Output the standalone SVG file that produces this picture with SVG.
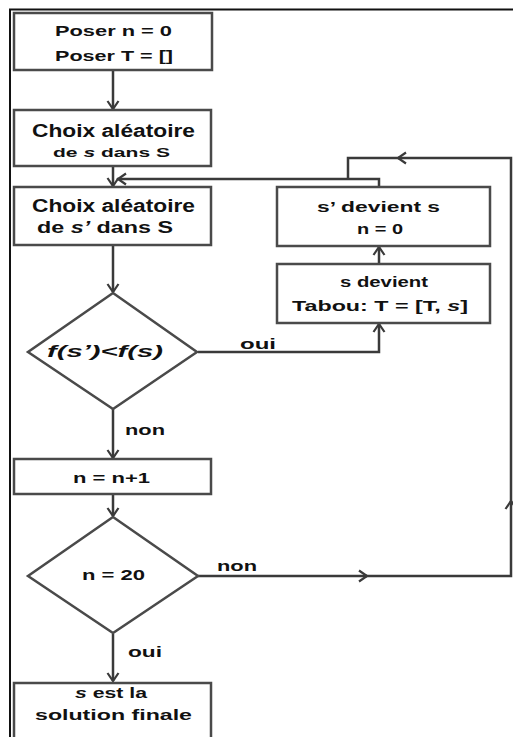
<svg xmlns="http://www.w3.org/2000/svg" width="513" height="737" viewBox="0 0 513 737">
<defs>
<style>
.box{fill:#fff;stroke:#4a4a4a;stroke-width:2.5}
.ln{fill:none;stroke:#3a3a3a;stroke-width:2.5}
.t{font-family:"Liberation Sans",Arial,sans-serif;font-weight:bold;fill:#111;text-anchor:middle}
.l{font-family:"Liberation Sans",Arial,sans-serif;font-weight:bold;fill:#111}
</style>
<marker id="ah" markerUnits="userSpaceOnUse" markerWidth="14" markerHeight="14" viewBox="-10 -7 12 14" refX="0" refY="0" orient="auto">
<path d="M-8,-5.5 L0,0 L-8,5.5" fill="none" stroke="#3a3a3a" stroke-width="2.2"/>
</marker>
</defs>
<rect width="513" height="737" fill="#fff"/>
<path d="M10,737 L10,9.5 L513,9.5" fill="none" stroke="#111" stroke-width="2"/>
<g id="connectors">
<path class="ln" d="M113,70 L113,109" marker-end="url(#ah)"/>
<path class="ln" d="M113,166 L113,186" marker-end="url(#ah)"/>
<path class="ln" d="M379,187 L379,179 L118,179" marker-end="url(#ah)"/>
<path class="ln" d="M113,245 L113,292" marker-end="url(#ah)"/>
<path class="ln" d="M198,352 L379,352 L379,324" marker-end="url(#ah)"/>
<path class="ln" d="M379,264 L379,247" marker-end="url(#ah)"/>
<path class="ln" d="M113,409 L113,458" marker-end="url(#ah)"/>
<path class="ln" d="M113,494 L113,516" marker-end="url(#ah)"/>
<path class="ln" d="M113,634 L113,681" marker-end="url(#ah)"/>
<path class="ln" d="M198,576 L367,576" marker-end="url(#ah)"/>
<path class="ln" d="M366,576 L511,576 L511,501" marker-end="url(#ah)"/>
<path class="ln" d="M511,502 L511,158 L398,158" marker-end="url(#ah)"/>
<path class="ln" d="M399,158 L348,158 L348,179"/>
<text class="l" x="240" y="349" font-size="15" textLength="36" lengthAdjust="spacingAndGlyphs">oui</text>
<text class="l" x="125" y="435" font-size="15" textLength="40" lengthAdjust="spacingAndGlyphs">non</text>
<text class="l" x="217" y="571" font-size="15" textLength="40" lengthAdjust="spacingAndGlyphs">non</text>
<text class="l" x="128" y="657" font-size="15" textLength="34" lengthAdjust="spacingAndGlyphs">oui</text>
</g>
<g id="init">
<rect class="box" x="14" y="13" width="198" height="57"/>
<text class="t" x="113.5" y="36" font-size="15" textLength="117" lengthAdjust="spacingAndGlyphs">Poser n = 0</text>
<text class="t" x="114" y="61" font-size="15" textLength="118" lengthAdjust="spacingAndGlyphs">Poser T = []</text>
</g>
<g id="choix-s">
<rect class="box" x="14" y="110" width="197" height="56"/>
<text class="t" x="113.5" y="137" font-size="17.5" textLength="163" lengthAdjust="spacingAndGlyphs">Choix aléatoire</text>
<text class="t" x="111.5" y="157" font-size="13.5" textLength="117" lengthAdjust="spacingAndGlyphs">de <tspan font-style="italic">s</tspan> dans S</text>
</g>
<g id="choix-sp">
<rect class="box" x="14" y="187" width="197" height="58"/>
<text class="t" x="113.5" y="212" font-size="17.5" textLength="163" lengthAdjust="spacingAndGlyphs">Choix aléatoire</text>
<text class="t" x="105" y="233" font-size="16.5" textLength="136" lengthAdjust="spacingAndGlyphs">de <tspan font-style="italic">s’</tspan> dans S</text>
</g>
<g id="devient-s">
<rect class="box" x="277" y="187" width="213" height="59"/>
<text class="t" x="378.5" y="212" font-size="15" textLength="123" lengthAdjust="spacingAndGlyphs">s’ devient s</text>
<text class="t" x="380" y="234" font-size="15" textLength="46" lengthAdjust="spacingAndGlyphs">n = 0</text>
</g>
<g id="tabou">
<rect class="box" x="277" y="264" width="213" height="59"/>
<text class="t" x="384" y="287" font-size="15" textLength="88" lengthAdjust="spacingAndGlyphs">s devient</text>
<text class="t" x="380" y="311" font-size="15" textLength="176" lengthAdjust="spacingAndGlyphs">Tabou: T = [T, <tspan font-style="italic">s</tspan>]</text>
</g>
<g id="test-f">
<polygon class="box" points="113,293 197,352 113,409 28,352"/>
<text class="t" x="105" y="357" font-size="16" font-style="italic" textLength="116" lengthAdjust="spacingAndGlyphs">f(s’)&lt;f(s)</text>
</g>
<g id="incr">
<rect class="box" x="14" y="459" width="197" height="35"/>
<text class="t" x="111.5" y="483" font-size="15" textLength="77" lengthAdjust="spacingAndGlyphs">n = n+1</text>
</g>
<g id="test-n">
<polygon class="box" points="113,517 198,576 113,633 28,576"/>
<text class="t" x="113.5" y="580" font-size="15" textLength="63" lengthAdjust="spacingAndGlyphs">n = 20</text>
</g>
<g id="final">
<rect class="box" x="14" y="683" width="197" height="60"/>
<text class="t" x="111" y="698" font-size="15" textLength="72" lengthAdjust="spacingAndGlyphs"><tspan font-style="italic">s</tspan> est la</text>
<text class="t" x="113.5" y="720" font-size="15" textLength="157" lengthAdjust="spacingAndGlyphs">solution finale</text>
</g>
</svg>
